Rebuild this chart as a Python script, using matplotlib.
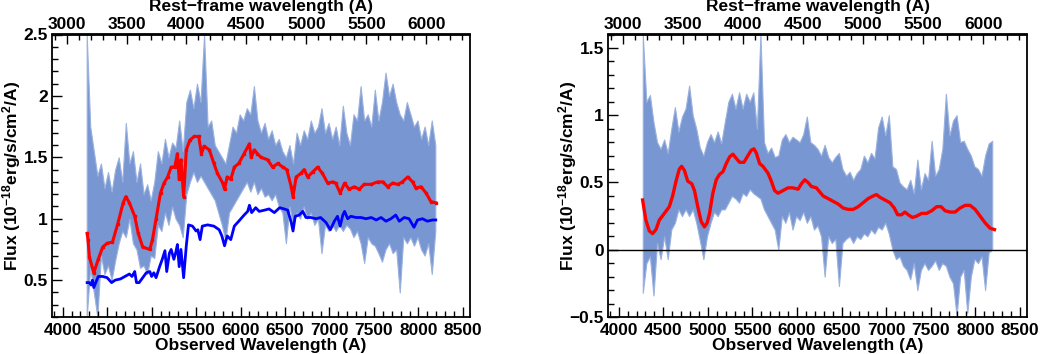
import numpy as np
import matplotlib
matplotlib.use('Agg')
import matplotlib.pyplot as plt
from matplotlib.ticker import MultipleLocator, FixedLocator, FuncFormatter

plt.rcParams['font.family'] = ['Liberation Sans', 'DejaVu Sans']
plt.rcParams['font.weight'] = 'bold'
plt.rcParams['mathtext.fontset'] = 'custom'
plt.rcParams['mathtext.bf'] = 'Liberation Sans:bold'
plt.rcParams['mathtext.rm'] = 'Liberation Sans:bold'
plt.rcParams['mathtext.default'] = 'bf'

# redshift factor for the rest-frame axis
onez = 1.348
rest_ticks = [3000, 3500, 4000, 4500, 5000, 5500, 6000]

# observed spectrum band (every 40 A from 4270 to 8190)
lam_band = np.arange(4270, 8191, 40)

left_hi = [2.5, 1.75, 1.55, 1.35, 1.45, 1.25, 1.38, 1.22, 1.4, 1.5,
           1.3, 1.78, 1.45, 1.55, 1.3, 1.45, 1.2, 1.28, 1.15, 1.3,
           1.55, 1.45, 1.65, 1.5, 1.62, 1.58, 1.8, 1.55, 1.95, 2.05,
           1.9, 2.1, 1.95, 2.5, 1.75, 1.8, 1.6, 1.55, 1.5, 1.45,
           1.6, 1.75, 1.7, 1.85, 1.8, 1.9, 1.85, 2.08, 1.8, 1.7,
           1.78, 1.65, 1.72, 1.6, 1.65, 1.55, 1.5, 1.6, 1.45, 1.7,
           1.6, 1.72, 1.65, 1.8, 1.7, 1.75, 1.9, 1.7, 1.78, 1.65,
           1.75, 1.6, 1.92, 1.7, 1.6, 1.85, 1.8, 2.08, 1.8, 1.85,
           1.75, 2.05, 1.8, 1.95, 2.19, 2.0, 2.1, 1.95, 1.85, 1.8,
           1.95, 1.85, 1.75, 1.8, 1.65, 1.75, 1.6, 1.8, 1.6]
left_lo = [0.2, 0.6, 0.4, 0.2, 0.7, 0.55, 0.62, 0.5, 0.66, 0.8,
           0.9, 0.85, 1.0, 0.8, 0.75, 0.6, 0.62, 0.55, 0.7, 0.68,
           0.95, 0.9, 1.05, 0.95, 1.1, 1.0, 0.95, 0.85, 1.2, 1.3,
           1.38, 1.3, 1.35, 1.3, 1.25, 1.2, 1.15, 1.05, 0.95, 0.82,
           1.05, 1.1, 1.15, 1.2, 1.25, 1.3, 1.22, 1.3, 1.2, 1.25,
           1.18, 1.2, 1.15, 1.2, 1.1, 1.05, 0.8, 1.1, 0.95, 1.05,
           1.0, 1.1, 1.0, 1.05, 0.95, 1.0, 0.72, 0.95, 0.9, 0.95,
           0.9, 0.95, 0.9, 0.95, 0.92, 0.85, 0.9, 0.8, 0.64, 0.85,
           0.8, 0.78, 0.72, 0.65, 0.75, 0.8, 0.72, 0.75, 0.4, 0.85,
           0.8, 0.85, 0.78, 0.85, 0.75, 0.7, 0.8, 0.55, 0.9]

right_hi = [1.6, 1.1, 1.15, 0.95, 0.8, 0.75, 0.82, 0.72, 0.9, 1.06,
            0.88, 0.99, 1.05, 1.22, 1.0, 0.9, 0.76, 0.7, 0.8, 0.86,
            0.8, 0.88, 0.79, 0.95, 1.1, 1.16, 1.05, 1.17, 1.05, 1.16,
            1.1, 1.17, 0.9, 1.6, 0.8, 0.72, 0.76, 0.69, 0.7, 0.82,
            0.86, 0.8, 0.84, 0.82, 0.8, 0.86, 0.99, 0.8, 0.78, 0.75,
            0.7, 0.78, 0.69, 0.65, 0.69, 0.72, 0.6, 0.55, 0.58, 0.52,
            0.57, 0.6, 0.7, 0.65, 0.72, 0.68, 0.91, 0.99, 0.85, 1.0,
            0.62, 0.6, 0.5, 0.47, 0.45, 0.52, 0.42, 0.67, 0.45, 0.57,
            0.52, 0.81, 0.55, 0.6, 0.75, 1.16, 0.85, 0.96, 1.0, 0.8,
            0.81, 0.75, 0.7, 0.62, 0.6, 0.55, 0.7, 0.79, 0.81]
right_lo = [-0.32, -0.1, -0.05, -0.34, 0.05, -0.07, 0.1, -0.07, 0.15, 0.2,
            0.3, 0.25, 0.3, 0.25, 0.3, 0.2, 0.07, -0.07, 0.1, 0.2,
            0.28, 0.25, 0.3, 0.3, 0.35, 0.4, 0.38, 0.35, 0.42, 0.4,
            0.45, 0.42, 0.4, 0.38, 0.3, 0.25, 0.2, 0.15, 0.0, 0.25,
            0.2, 0.28, 0.15, 0.25, 0.22, 0.28, 0.2, 0.25, 0.15, 0.18,
            0.1, -0.2, 0.1, 0.05, 0.08, -0.27, 0.05, 0.08, 0.1, 0.05,
            0.1, 0.08, 0.12, 0.1, 0.15, 0.12, 0.17, 0.15, 0.2, 0.12,
            0.0, -0.07, -0.05, -0.12, -0.15, -0.22, -0.1, -0.3, -0.15, -0.1,
            -0.15, -0.12, -0.08, -0.15, -0.1, -0.12, -0.2, -0.25, -0.49, -0.2,
            -0.15, -0.47, -0.2, -0.07, -0.1, -0.05, -0.3, -0.02, 0.0]

# left panel: fitted total model (red) and stellar component (blue)
red_lam = [4275, 4285, 4300, 4350, 4400, 4450, 4500, 4560, 4620, 4680,
           4710, 4750, 4810, 4850, 4900, 4980, 5010, 5050, 5100, 5140,
           5180, 5220, 5260, 5290, 5310, 5330, 5360, 5390, 5430, 5480,
           5530, 5560, 5590, 5650, 5700, 5740, 5800, 5820, 5850, 5890,
           5930, 5980, 6040, 6100, 6120, 6155, 6190, 6230, 6305, 6360,
           6420, 6475, 6520, 6570, 6590, 6625, 6680, 6715, 6755, 6810,
           6867, 6920, 6980, 7035, 7070, 7120, 7170, 7220, 7280, 7335,
           7390, 7470, 7540, 7600, 7655, 7710, 7770, 7820, 7880, 7935,
           7970, 8030, 8085, 8140, 8195]
red_flux = [0.88, 0.83, 0.69, 0.56, 0.67, 0.77, 0.80, 0.81, 0.96, 1.13,
            1.18, 1.13, 1.02, 0.88, 0.77, 0.75, 0.83, 1.0, 1.21, 1.29,
            1.34, 1.42, 1.42, 1.53, 1.32, 1.48, 1.18, 1.56, 1.64, 1.67,
            1.67, 1.53, 1.59, 1.56, 1.45, 1.37, 1.29, 1.24, 1.34, 1.32,
            1.42, 1.45, 1.53, 1.61, 1.50, 1.56, 1.53, 1.50, 1.48, 1.42,
            1.45, 1.42, 1.40, 1.26, 1.18, 1.34, 1.37, 1.40, 1.34, 1.38,
            1.42, 1.37, 1.29, 1.30, 1.29, 1.21, 1.29, 1.24, 1.26, 1.24,
            1.28, 1.28, 1.30, 1.30, 1.26, 1.29, 1.28, 1.30, 1.34, 1.30,
            1.25, 1.26, 1.21, 1.14, 1.13]

blue_lam = [4275, 4300, 4320, 4335, 4350, 4400, 4450, 4500, 4550, 4590,
            4650, 4700, 4750, 4780, 4810, 4830, 4860, 4900, 4940, 4980,
            5000, 5025, 5050, 5090, 5120, 5150, 5170, 5200, 5220, 5250,
            5270, 5290, 5310, 5330, 5360, 5390, 5415, 5460, 5500, 5520,
            5545, 5570, 5630, 5700, 5760, 5790, 5820, 5850, 5890, 5930,
            5980, 6040, 6080, 6100, 6125, 6170, 6210, 6270, 6320, 6380,
            6440, 6490, 6530, 6570, 6590, 6615, 6660, 6700, 6735, 6790,
            6850, 6900, 6960, 7010, 7055, 7090, 7120, 7150, 7170, 7205,
            7240, 7300, 7355, 7410, 7470, 7525, 7580, 7635, 7690, 7745,
            7785, 7840, 7895, 7950, 7990, 8045, 8100, 8160, 8195]
blue_flux = [0.48, 0.48, 0.46, 0.50, 0.44, 0.53, 0.53, 0.52, 0.48, 0.50,
             0.51, 0.53, 0.55, 0.53, 0.57, 0.48, 0.48, 0.52, 0.56, 0.57,
             0.53, 0.56, 0.52, 0.61, 0.67, 0.74, 0.57, 0.72, 0.75, 0.67,
             0.72, 0.79, 0.61, 0.75, 0.52, 0.78, 0.95, 0.94, 0.90, 0.91,
             0.83, 0.94, 0.95, 0.94, 0.91, 0.86, 0.78, 0.86, 0.83, 0.94,
             0.98, 1.03, 1.06, 1.11, 1.05, 1.09, 1.06, 1.07, 1.08, 1.05,
             1.09, 1.08, 1.07, 0.97, 0.90, 1.02, 1.03, 1.06, 1.01, 1.01,
             1.00, 1.01, 0.97, 0.91, 0.98, 1.02, 0.94, 1.03, 1.06, 1.00,
             1.02, 1.01, 1.01, 1.00, 1.01, 0.99, 1.01, 0.98, 1.00, 1.03,
             0.98, 1.01, 1.00, 0.93, 0.99, 1.00, 0.98, 0.99, 0.99]

# right panel: residual smoothed (red)
res_lam = [4268, 4305, 4343, 4380, 4418, 4455, 4512, 4568, 4605, 4643,
           4680, 4706, 4737, 4774, 4820, 4850, 4887, 4925, 4962, 4992,
           5019, 5056, 5094, 5131, 5169, 5206, 5244, 5281, 5318, 5356,
           5405, 5450, 5487, 5517, 5543, 5581, 5618, 5674, 5712, 5749,
           5787, 5843, 5899, 5955, 6012, 6049, 6087, 6124, 6162, 6218,
           6255, 6293, 6349, 6405, 6461, 6518, 6574, 6630, 6686, 6742,
           6798, 6855, 6892, 6930, 6986, 7042, 7091, 7129, 7173, 7211,
           7248, 7293, 7342, 7398, 7454, 7511, 7567, 7616, 7661, 7717,
           7773, 7829, 7886, 7942, 7998, 8054, 8110, 8166, 8215]
res_flux = [0.37, 0.22, 0.14, 0.12, 0.15, 0.22, 0.27, 0.32, 0.40, 0.51,
            0.60, 0.62, 0.59, 0.51, 0.49, 0.44, 0.32, 0.21, 0.17, 0.20,
            0.27, 0.42, 0.52, 0.56, 0.58, 0.64, 0.69, 0.71, 0.68, 0.65,
            0.65, 0.70, 0.74, 0.75, 0.72, 0.64, 0.62, 0.57, 0.51, 0.44,
            0.42, 0.44, 0.46, 0.46, 0.45, 0.49, 0.52, 0.50, 0.47, 0.46,
            0.43, 0.40, 0.38, 0.36, 0.34, 0.31, 0.30, 0.30, 0.32, 0.35,
            0.38, 0.40, 0.41, 0.39, 0.37, 0.35, 0.31, 0.26, 0.26, 0.28,
            0.26, 0.24, 0.25, 0.27, 0.27, 0.29, 0.32, 0.32, 0.29, 0.28,
            0.28, 0.31, 0.33, 0.33, 0.30, 0.25, 0.20, 0.16, 0.15]

band_color = '#7896d2'
ylab = r'Flux (10$^{-18}$erg/s/cm$^{2}$/A)'


def fmt_num(v, pos):
    return ('%g' % v).replace('-', '\u2212')


def draw_band(ax, lam, hi, lo):
    # noisy spectrum: filled between its high and low excursions
    ax.fill_between(lam, lo, hi, color=band_color, lw=0.8, edgecolor='#9bb1de', zorder=1)


def style_axes(ax, ylim, ymaj):
    ax.set_xlim(3880, 8580)
    ax.set_ylim(*ylim)
    ax.xaxis.set_major_locator(MultipleLocator(500))
    ax.xaxis.set_minor_locator(MultipleLocator(100))
    ax.yaxis.set_major_locator(MultipleLocator(ymaj))
    ax.yaxis.set_minor_locator(MultipleLocator(0.1))
    ax.yaxis.set_major_formatter(FuncFormatter(fmt_num))
    ax.tick_params(which='both', direction='in', labelsize=12.5, right=False, top=False)
    ax.tick_params(which='major', length=7, width=1)
    ax.tick_params(which='minor', length=4, width=1)
    ax.tick_params(axis='x', pad=4)
    ax.tick_params(axis='y', pad=3)
    for s in ax.spines.values():
        s.set_linewidth(1.3)
    for lab in ax.get_xticklabels() + ax.get_yticklabels():
        lab.set_fontweight('bold')
    ax.set_xlabel('Observed Wavelength (A)', fontsize=12.5, fontweight='bold')
    ax.xaxis.set_label_coords(0.5, -0.075)
    ax.set_ylabel(ylab, fontsize=12.5, fontweight='bold')
    ax.yaxis.set_label_coords(-0.069, 0.5)

    top = ax.secondary_xaxis('top', functions=(lambda x: x / onez, lambda x: x * onez))
    top.xaxis.set_major_locator(FixedLocator(rest_ticks))
    top.xaxis.set_minor_locator(MultipleLocator(100))
    top.tick_params(which='both', direction='in', labelsize=12.5, pad=2)
    top.tick_params(which='major', length=7, width=1)
    top.tick_params(which='minor', length=4, width=1)
    top.spines['top'].set_linewidth(1.3)
    for lab in top.get_xticklabels():
        lab.set_fontweight('bold')
    ax.text(0.5, 1.0 + 20.5 / 282.5, 'Rest\u2212frame wavelength (A)', transform=ax.transAxes,
            ha='center', va='bottom', fontsize=12.5, fontweight='bold')


fig = plt.figure(figsize=(10.41, 3.54), dpi=100)
ax1 = fig.add_axes([52 / 1041, 1 - 317 / 354, 418 / 1041, 282.5 / 354])
ax2 = fig.add_axes([608 / 1041, 1 - 317 / 354, 419 / 1041, 282.5 / 354])

# Left panel: spectrum with total fit and stellar template
draw_band(ax1, lam_band, left_hi, left_lo)
ax1.plot(red_lam, red_flux, color='red', lw=2.2, marker='s', ms=2, zorder=3)
ax1.plot(blue_lam, blue_flux, color='blue', lw=2.0, zorder=3)
style_axes(ax1, (0.2, 2.5), 0.5)

# Right panel: residual spectrum and smoothed curve
draw_band(ax2, lam_band, right_hi, right_lo)
ax2.axhline(0, color='black', lw=1.0, zorder=2)
ax2.plot(res_lam, res_flux, color='red', lw=2.4, zorder=3)
style_axes(ax2, (-0.5, 1.6), 0.5)

plt.savefig('out.png', dpi=100)
